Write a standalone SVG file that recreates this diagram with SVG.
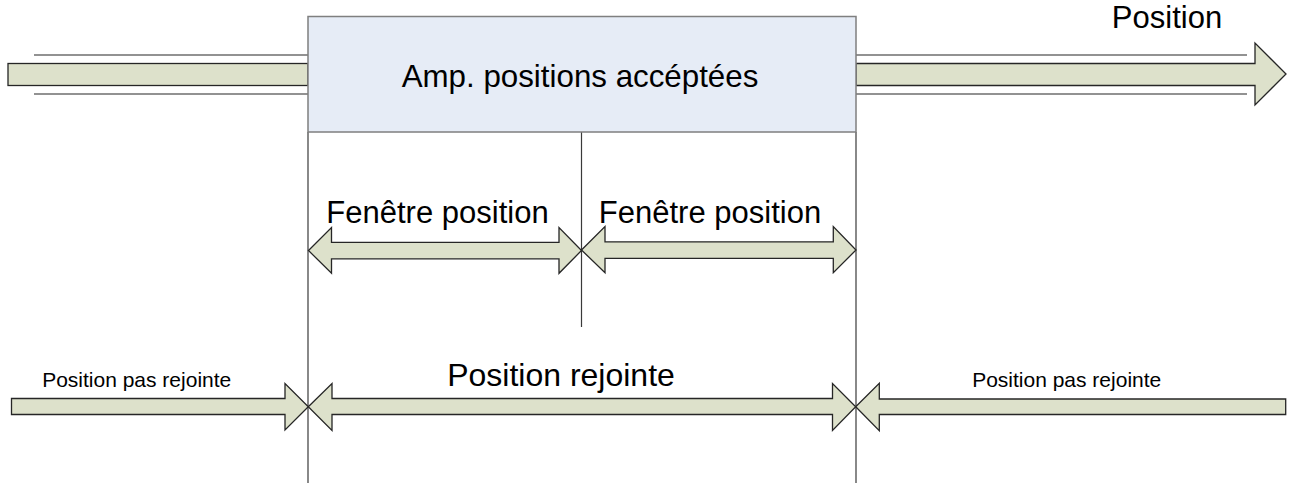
<svg xmlns="http://www.w3.org/2000/svg" width="1293" height="483" viewBox="0 0 1293 483">
<style>
.arrow{fill:#dde1cb;stroke:#262626;stroke-width:1.3;stroke-linejoin:miter}
.rail{stroke:#6e6e6e;stroke-width:1.6;fill:none}
.vline{stroke:#3a3a3a;stroke-width:1.2;fill:none}
.big{font-family:"Liberation Sans",Arial,sans-serif;font-size:31px;fill:#000}
.small{font-family:"Liberation Sans",Arial,sans-serif;font-size:21px;fill:#000}
</style>
<rect width="1293" height="483" fill="#ffffff"/>
<g id="connectors">
  <line class="rail" x1="34" y1="55" x2="308" y2="55"/>
  <line class="rail" x1="34" y1="94" x2="308" y2="94"/>
  <rect class="arrow" x="8" y="63.5" width="300" height="22"/>
  <line class="rail" x1="856" y1="55" x2="1247" y2="55"/>
  <line class="rail" x1="856" y1="94" x2="1247" y2="94"/>
  <path class="arrow" d="M856,63.5 L1255,63.5 L1255,43 L1286,74 L1255,105 L1255,85.5 L856,85.5 Z"/>
  <line class="vline" x1="308" y1="132" x2="308" y2="483"/>
  <line class="vline" x1="581.5" y1="132" x2="581.5" y2="327" stroke="#555"/>
  <line class="vline" x1="856" y1="132" x2="856" y2="483" stroke="#666"/>
</g>
<g id="box">
  <rect x="308" y="16.5" width="548" height="115.5" fill="#e6ecf6" stroke="#7f7f7f" stroke-width="1.5"/>
  <text class="big" x="580" y="87" text-anchor="middle" style="font-size:31.3px">Amp. positions accéptées</text>
</g>
<g id="position-label">
  <text class="big" x="1167" y="28" text-anchor="middle">Position</text>
</g>
<g id="fenetre-left">
  <path class="arrow" d="M308.5,250.5 L331.5,227.5 L331.5,242.3 L559,242.3 L559,227.5 L581.5,250.5 L559,273.3 L559,258.8 L331.5,258.8 L331.5,273.3 Z"/>
  <text class="big" x="437.5" y="223" text-anchor="middle">Fenêtre position</text>
</g>
<g id="fenetre-right">
  <path class="arrow" d="M581.5,250 L605,226.5 L605,241.8 L833.3,241.8 L833.3,226.5 L856,250 L833.3,272.7 L833.3,258.3 L605,258.3 L605,272.7 Z"/>
  <text class="big" x="710" y="223" text-anchor="middle">Fenêtre position</text>
</g>
<g id="pas-rejointe-left">
  <path class="arrow" d="M11.5,398.5 L285,398.5 L285,383.5 L308.3,406.7 L285,430 L285,414.5 L11.5,414.5 Z"/>
  <text class="small" x="136.7" y="387" text-anchor="middle">Position pas rejointe</text>
</g>
<g id="rejointe">
  <path class="arrow" d="M308.3,406.7 L332,383.5 L332,398.5 L832.5,398.5 L832.5,383.5 L855.7,406.7 L832.5,430.5 L832.5,414.5 L332,414.5 L332,430.5 Z"/>
  <text class="big" x="561" y="386" text-anchor="middle" style="font-size:32px">Position rejointe</text>
</g>
<g id="pas-rejointe-right">
  <path class="arrow" d="M855.7,406.7 L879.3,383.3 L879.3,399 L1285.7,399 L1285.7,414.5 L879.3,414.5 L879.3,430.7 Z"/>
  <text class="small" x="1066.7" y="387" text-anchor="middle">Position pas rejointe</text>
</g>
</svg>
